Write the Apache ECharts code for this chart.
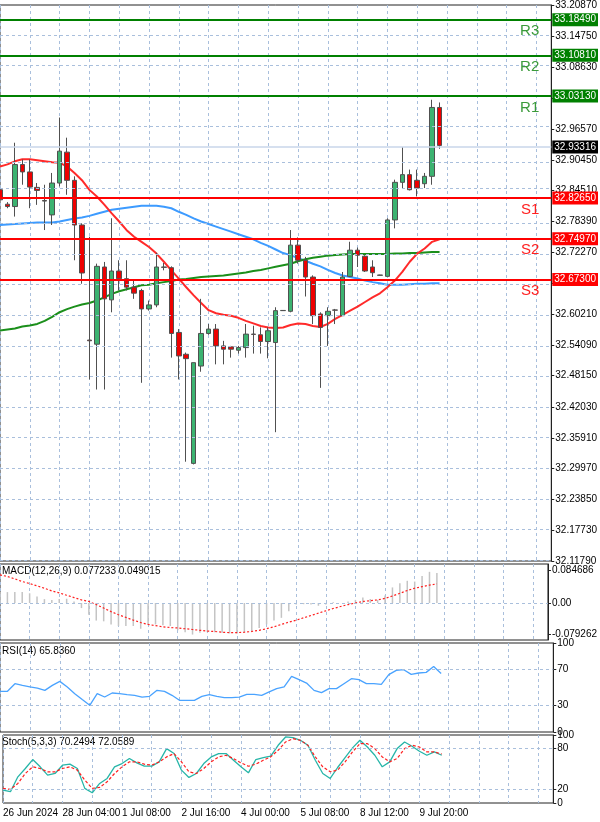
<!DOCTYPE html>
<html><head><meta charset="utf-8">
<script src="https://cdn.jsdelivr.net/npm/echarts@6/dist/echarts.min.js"></script>
<style>html,body{margin:0;padding:0;background:#fff}#c{width:600px;height:822px}</style>
</head><body><div id="c"></div>
<script>
const timeLabels = ['26 Jun 2024','28 Jun 04:00','1 Jul 08:00','2 Jul 16:00','4 Jul 00:00','5 Jul 08:00','8 Jul 12:00','9 Jul 20:00'];
// [open, close, low, high]
const ohlc = [
[32.8463,32.8265,32.8100,32.8496],[32.8179,32.8133,32.8100,32.8220],[32.8133,32.8957,32.7936,32.9385],[32.8957,32.8812,32.8561,32.9055],
[32.8812,32.8515,32.8100,32.9055],[32.8509,32.8449,32.8166,32.8594],[32.8252,32.8240,32.7672,32.8561],[32.7969,32.8594,32.7771,32.8792],
[32.8594,32.9220,32.8528,32.9879],[32.9200,32.8647,32.8364,32.9484],[32.8647,32.7771,32.7079,32.8726],[32.7771,32.6829,32.6618,32.7804],
[32.5514,32.5500,32.4741,32.7540],[32.5432,32.6960,32.4543,32.7013],[32.6947,32.6322,32.4543,32.7046],[32.6302,32.6868,32.6058,32.7903],
[32.6868,32.6717,32.6486,32.7079],[32.6717,32.6552,32.6486,32.7079],[32.6552,32.6434,32.6322,32.6684],[32.6486,32.6124,32.4675,32.6519],
[32.6124,32.6203,32.6091,32.6289],[32.6203,32.6947,32.6157,32.7224],[32.6947,32.6940,32.6882,32.7026],[32.6934,32.5643,32.5169,32.6960],
[32.5663,32.5202,32.4741,32.5729],[32.5235,32.5149,32.3127,32.5268],[32.3094,32.5070,32.3074,32.5070],[32.5004,32.5643,32.4892,32.6322],
[32.5643,32.5729,32.5617,32.5828],[32.5729,32.5399,32.5037,32.5828],[32.5399,32.5334,32.5037,32.5498],[32.5380,32.5334,32.5169,32.5399],
[32.5314,32.5366,32.5248,32.5399],[32.5366,32.5630,32.5169,32.5828],[32.5630,32.5625,32.5248,32.5795],[32.5617,32.5485,32.5248,32.5762],
[32.5485,32.5696,32.5156,32.5762],[32.5465,32.6091,32.3706,32.6157],[32.6091,32.6095,32.6085,32.6100],[32.6078,32.7376,32.6058,32.7672],
[32.7376,32.7079,32.7013,32.7527],[32.7079,32.6750,32.6368,32.7145],[32.6750,32.5992,32.5828,32.6783],[32.6025,32.5762,32.4576,32.6058],
[32.5992,32.6078,32.5399,32.6157],[32.6104,32.6100,32.5828,32.6124],[32.5992,32.6750,32.5992,32.6849],[32.6763,32.7277,32.6750,32.7442],
[32.7277,32.7178,32.6947,32.7329],[32.7158,32.6868,32.6849,32.7178],[32.6947,32.6835,32.6750,32.7079],[32.6783,32.6790,32.6775,32.6795],
[32.6763,32.7870,32.6763,32.7903],[32.7870,32.8608,32.7705,32.8660],[32.8608,32.8759,32.8496,32.9299],[32.8759,32.8463,32.8449,32.8858],
[32.8647,32.8496,32.8331,32.8858],[32.8581,32.8726,32.8496,32.8792],[32.8726,33.0077,32.8561,33.0228],[33.0077,32.9332,32.9266,33.0175]
];
const maRed = [32.892,32.896,32.902,32.906,32.906,32.904,32.902,32.900,32.899,32.892,32.879,32.865,32.846,32.833,32.817,32.800,32.784,32.767,32.754,32.744,32.734,32.721,32.705,32.688,32.672,32.655,32.639,32.624,32.610,32.604,32.601,32.599,32.595,32.589,32.584,32.579,32.576,32.575,32.576,32.581,32.584,32.583,32.579,32.577,32.583,32.593,32.601,32.609,32.617,32.626,32.635,32.643,32.655,32.668,32.685,32.705,32.721,32.731,32.744,32.749];
const maBlue = [32.777,32.778,32.779,32.780,32.781,32.782,32.782,32.782,32.784,32.787,32.790,32.792,32.795,32.799,32.803,32.807,32.809,32.811,32.813,32.815,32.815,32.815,32.813,32.810,32.803,32.797,32.790,32.784,32.779,32.774,32.769,32.764,32.759,32.754,32.749,32.742,32.736,32.729,32.722,32.718,32.712,32.707,32.701,32.696,32.689,32.683,32.678,32.675,32.672,32.668,32.665,32.663,32.660,32.660,32.660,32.661,32.662,32.662,32.663,32.663];
const maGreen = [32.570,32.572,32.574,32.578,32.580,32.583,32.589,32.597,32.606,32.612,32.617,32.621,32.624,32.629,32.635,32.642,32.647,32.651,32.655,32.659,32.660,32.663,32.665,32.667,32.670,32.671,32.673,32.675,32.676,32.677,32.678,32.680,32.682,32.684,32.687,32.689,32.692,32.695,32.698,32.701,32.706,32.710,32.713,32.715,32.717,32.718,32.719,32.720,32.720,32.720,32.720,32.720,32.720,32.721,32.721,32.722,32.722,32.723,32.724,32.724];
const macdHist = [0.028,0.028,0.028,0.028,0.025,0.017,0.010,0.008,0.010,0.011,0.004,-0.013,-0.030,-0.045,-0.047,-0.055,-0.059,-0.059,-0.059,-0.066,-0.055,-0.055,-0.057,-0.059,-0.070,-0.075,-0.081,-0.076,-0.075,-0.075,-0.076,-0.078,-0.078,-0.075,-0.072,-0.064,-0.055,-0.045,-0.038,-0.021,-0.004,-0.003,-0.004,-0.007,-0.004,0.002,0.000,0.004,0.008,0.014,0.010,0.008,0.019,0.040,0.051,0.057,0.055,0.069,0.080,0.077];
const macdSignal = [0.072,0.068,0.062,0.055,0.050,0.044,0.038,0.031,0.026,0.020,0.014,0.008,0.004,-0.004,-0.013,-0.022,-0.030,-0.037,-0.044,-0.050,-0.055,-0.058,-0.061,-0.063,-0.064,-0.066,-0.068,-0.070,-0.072,-0.073,-0.075,-0.076,-0.076,-0.075,-0.073,-0.070,-0.066,-0.061,-0.055,-0.049,-0.044,-0.038,-0.032,-0.026,-0.020,-0.014,-0.009,-0.004,0.000,0.004,0.006,0.008,0.012,0.018,0.025,0.032,0.038,0.042,0.046,0.049];
const rsi = [45.7,45.7,54.3,52.4,50.6,49.4,46.8,52.4,56.9,50.6,43.1,36.4,30.0,43.1,39.3,43.8,43.1,42.0,41.2,39.3,40.1,46.8,45.7,41.2,35.6,35.6,35.6,40.1,42.0,40.1,38.6,38.6,39.3,42.3,42.3,41.2,45.0,48.7,50.6,62.5,58.8,55.0,46.8,44.2,48.7,48.7,54.3,59.9,58.8,54.3,54.3,53.6,64.4,69.3,70.0,64.8,66.3,67.0,73.7,65.8];
const stochK = [19,16.6,38.5,50.7,63.9,53.2,41,43.4,55.6,57.1,50.7,21.5,15.1,28.8,36.1,53.2,58,65.4,59,54.1,54.1,60.5,80,72.7,48.3,37.6,43.4,58,67.8,72.7,72.7,62.9,53.2,44.4,63.9,66.8,68.8,84.9,97.1,96.1,92.2,84.9,62.9,43.4,36.1,52.2,66.8,81,92.2,82.4,70.2,53.2,60.5,80,89.8,83.4,76.1,70.2,75.1,70.2];
const stochD = [21.5,20,28.8,43.4,53.2,50.7,45.9,45.9,50.7,53.2,48.3,33.7,21.5,22.9,31.2,43.4,53.2,60.5,60.5,57.1,55.6,60.5,67.8,72.7,60.5,45.9,43.4,50.7,60.5,67.8,70.2,65.4,59,54.1,57.1,62.9,67.8,77.6,89.8,94.6,92.2,84.9,67.8,53.2,45.9,48.3,60.5,75.1,87.3,87.3,80,67.8,60.5,65.4,80,84.9,82.4,75.1,75.1,72.1];
const priceTicks = [33.2087,33.1475,33.0863,33.0251,32.9657,32.9045,32.8451,32.7839,32.7227,32.6633,32.6021,32.5409,32.4815,32.4203,32.3591,32.2997,32.2385,32.1773,32.1179];
const resist = [['R3',33.1849],['R2',33.1081],['R1',33.0313]];
const support = [['S1',32.8265],['S2',32.7497],['S3',32.6730]];
const lastPrice = 32.93316;
const macdTicks = [0.084686,0,-0.079262];
const rsiTicks = [100,70,30,0];
const stochTicks = [100,80,20,0];

const N = 75;
const cats = Array.from({length:N},(_,i)=>String(i));
const F = 'Liberation Sans, Arial, sans-serif';
const grids = [
 {left:-1.7,width:555,top:4,height:557},
 {left:-1.7,width:555,top:564,height:76},
 {left:-1.7,width:555,top:643,height:89},
 {left:-1.7,width:555,top:735,height:68}
].map(g=>Object.assign(g,{show:true,borderColor:'#222',borderWidth:1,containLabel:false}));
const dash = {show:true,interval:3,lineStyle:{color:'#a9bfdc',type:[3,3],width:1}};
const xAxes = grids.map((g,k)=>({type:'category',gridIndex:k,data:cats,boundaryGap:false,
  axisLine:{show:false},axisTick:{show:false},splitLine:dash,
  axisLabel:k===3?{show:true,interval:0,fontSize:10,fontFamily:F,color:'#000',align:'left',margin:5,
    formatter:(v,i)=>(i%8===0&&timeLabels[i/8])?timeLabels[i/8]:''}:{show:false}}));
function yAx(k,min,max,ticks,fmt){
 return {type:'value',gridIndex:k,min,max,position:'right',scale:true,
  axisLine:{show:true,lineStyle:{color:'#222'}},
  axisTick:{show:true,length:3,customValues:ticks,lineStyle:{color:'#222'}},
  splitLine:{show:false},
  axisLabel:{show:true,customValues:ticks,fontSize:10,fontFamily:F,color:'#000',margin:4,formatter:fmt}};
}
const yAxes = [
 yAx(0,32.1179,33.2087,priceTicks,v=>v.toFixed(5)),
 yAx(1,-0.0949,0.1001,macdTicks,v=>v===0?'0.00':v.toFixed(6)),
 yAx(2,0,100,rsiTicks,v=>String(v)),
 yAx(3,0,100,stochTicks,v=>String(v))
];
const hdash = (vals)=>({silent:true,symbol:'none',label:{show:false},animation:false,
 lineStyle:{color:'#a9bfdc',type:[3,3],width:1},data:vals.map(v=>({yAxis:v}))});
const lvl = (arr,col)=>arr.flatMap(([n,v])=>[
 {yAxis:v,lineStyle:{color:col,width:2,type:'solid'},label:{show:true,position:'end',distance:1,formatter:v.toFixed(5),
   color:'#fff',backgroundColor:col,padding:[2,2,1,2],fontSize:10,fontFamily:F}},
 {yAxis:v,lineStyle:{color:'rgba(0,0,0,0)',width:1,type:'solid'},label:{show:true,position:'insideEndBottom',distance:[12,4],formatter:n,
   color:col==='#008000'?'#3a9a3a':'#ff2020',fontSize:15,fontFamily:F}}
]);
const series = [
 {type:'line',xAxisIndex:0,yAxisIndex:0,data:maBlue,showSymbol:false,z:3,lineStyle:{color:'#3d9bff',width:2},
  markLine:hdash(priceTicks)},
 {type:'line',xAxisIndex:0,yAxisIndex:0,data:maGreen,showSymbol:false,z:3,lineStyle:{color:'#1b8f1b',width:2}},
 {type:'line',xAxisIndex:0,yAxisIndex:0,data:maRed,showSymbol:false,z:3,lineStyle:{color:'#ff2a2a',width:2}},
 {type:'candlestick',xAxisIndex:0,yAxisIndex:0,data:ohlc,barWidth:5,z:4,
  itemStyle:{color:'#3cb371',color0:'#ee0000',borderColor:'#505050',borderColor0:'#505050',borderWidth:1},
  markLine:{silent:true,symbol:'none',animation:false,data:[
   {yAxis:lastPrice,lineStyle:{color:'#c8d6ea',width:1.5,type:'solid'},label:{show:true,position:'end',distance:1,formatter:lastPrice.toFixed(5),color:'#fff',backgroundColor:'#000',padding:[2,2,1,2],fontSize:10,fontFamily:F}},
   ...lvl(resist,'#008000'),...lvl(support,'#ff0000')]}},
 {type:'bar',xAxisIndex:1,yAxisIndex:1,data:macdHist,barWidth:1.5,itemStyle:{color:'#c4c4c4'},
  markLine:hdash([0])},
 {type:'line',xAxisIndex:1,yAxisIndex:1,data:macdSignal,showSymbol:false,lineStyle:{color:'#ff2020',width:1.2,type:[2,2]}},
 {type:'line',xAxisIndex:2,yAxisIndex:2,data:rsi,showSymbol:false,lineStyle:{color:'#4aa3ff',width:1.3},markLine:hdash([70,30])},
 {type:'line',xAxisIndex:3,yAxisIndex:3,data:stochK,showSymbol:false,lineStyle:{color:'#26b5a8',width:1.3},markLine:hdash([80,20])},
 {type:'line',xAxisIndex:3,yAxisIndex:3,data:stochD,showSymbol:false,lineStyle:{color:'#ff2020',width:1.2,type:[3,2]}}
];
const txt=(t,x,y)=>({type:'text',left:x,top:y,style:{text:t,fontSize:10,fontFamily:F,fill:'#000'}});
const chart = echarts.init(document.getElementById('c'),null,{renderer:'canvas'});
chart.setOption({animation:false,backgroundColor:'#fff',grid:grids,xAxis:xAxes,yAxis:yAxes,series,
 graphic:[txt('MACD(12,26,9) 0.077233 0.049015',2,566),txt('RSI(14) 65.8360',2,646),txt('Stoch(5,3,3) 70.2494 72.0589',2,737)]});
</script></body></html>
